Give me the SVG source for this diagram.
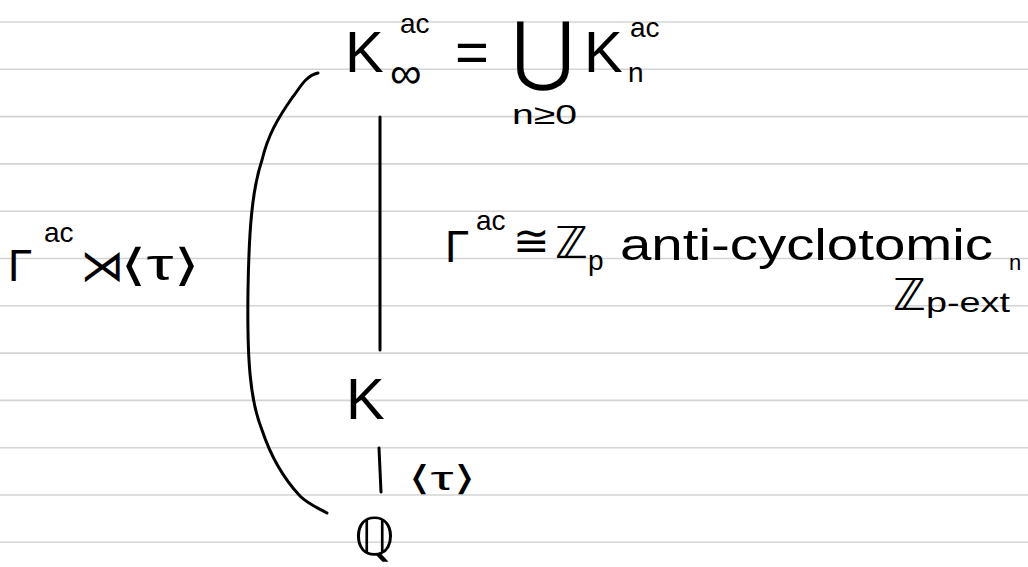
<svg xmlns="http://www.w3.org/2000/svg" width="1028" height="567" viewBox="0 0 1028 567">
<style>
.rule{stroke:#d4d4d4;stroke-width:1.6;fill:none}
.ink{stroke:#000;stroke-width:3;fill:none;stroke-linecap:round;stroke-linejoin:round}
text{font-family:"Liberation Sans","DejaVu Sans",sans-serif;fill:#000}
.big{font-size:58px}
.mid{font-size:44px}
.sm{font-size:28px}
</style>
<rect width="1028" height="567" fill="#fff"/>
<g id="rules">
<line class="rule" x1="0" y1="22" x2="1028" y2="22"/>
<line class="rule" x1="0" y1="69.3" x2="1028" y2="69.3"/>
<line class="rule" x1="0" y1="116.6" x2="1028" y2="116.6"/>
<line class="rule" x1="0" y1="163.9" x2="1028" y2="163.9"/>
<line class="rule" x1="0" y1="211.2" x2="1028" y2="211.2"/>
<line class="rule" x1="0" y1="258.5" x2="1028" y2="258.5"/>
<line class="rule" x1="0" y1="305.8" x2="1028" y2="305.8"/>
<line class="rule" x1="0" y1="353.1" x2="1028" y2="353.1"/>
<line class="rule" x1="0" y1="400.4" x2="1028" y2="400.4"/>
<line class="rule" x1="0" y1="447.7" x2="1028" y2="447.7"/>
<line class="rule" x1="0" y1="495" x2="1028" y2="495"/>
<line class="rule" x1="0" y1="542.3" x2="1028" y2="542.3"/>
</g>
<g id="connectors">
<line class="ink" x1="380" y1="117" x2="380" y2="350"/>
<line class="ink" x1="379" y1="448" x2="381" y2="492"/>
<path class="ink" d="M318,73 C305,76 300,88 292,98 C278,118 268,135 262,160 C252,190 249,230 248,290 C247,360 250,400 262,430 C272,460 285,480 300,496 C308,504 318,508 327,513"/>
</g>
<g id="node-Kinf">
<text class="big" x="345" y="72">K</text>
<text x="390" y="88" font-size="44">∞</text>
<text class="sm" x="400" y="33">ac</text>
<text class="big" x="455" y="72">=</text>
<text x="512" y="76" font-size="76">⋃</text>
<text class="sm" x="512" y="124" textLength="65" lengthAdjust="spacingAndGlyphs">n≥0</text>
<text class="big" x="584" y="72">K</text>
<text class="sm" x="628" y="82">n</text>
<text class="sm" x="630" y="37">ac</text>
</g>
<g id="label-galois-left">
<text class="mid" x="8" y="281">Γ</text>
<text class="sm" x="44" y="242">ac</text>
<text class="mid" x="80" y="281">⋊</text>
<text class="mid" x="120" y="280" textLength="80" lengthAdjust="spacingAndGlyphs">⟨τ⟩</text>
</g>
<g id="label-gamma-ac">
<text class="mid" x="445" y="262">Γ</text>
<text class="sm" x="476" y="230">ac</text>
<text class="mid" x="513" y="256">≅</text>
<text class="mid" x="555" y="258">ℤ</text>
<text class="sm" x="588" y="270">p</text>
<text class="mid" x="620" y="260" textLength="373" lengthAdjust="spacingAndGlyphs">anti-cyclotomic</text>
<text class="mid" x="893" y="310">ℤ</text>
<text class="sm" x="926" y="312" textLength="84" lengthAdjust="spacingAndGlyphs">p-ext</text>
<text x="1009" y="270" font-size="22">n</text>
</g>
<g id="node-K">
<text class="big" x="346" y="419">K</text>
</g>
<g id="label-tau">
<text x="408" y="490" font-size="34" textLength="68" lengthAdjust="spacingAndGlyphs">⟨τ⟩</text>
</g>
<g id="node-Q">
<text x="354" y="555" font-size="52">ℚ</text>
</g>
</svg>
